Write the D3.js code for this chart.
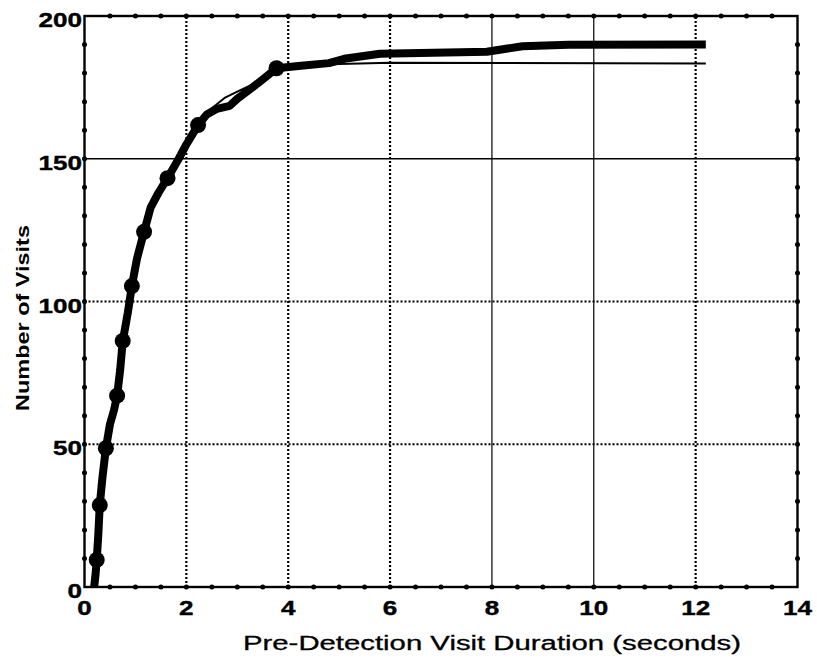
<!DOCTYPE html>
<html>
<head>
<meta charset="utf-8">
<script src="https://cdn.jsdelivr.net/npm/d3@7"></script>
<style>
  html, body { margin: 0; padding: 0; background: #fff; }
  svg { display: block; }
  text { font-family: "Liberation Sans", Arial, Helvetica, sans-serif; fill: #000; }
</style>
</head>
<body>
<svg id="chart" width="817" height="665"></svg>
<script>
// Cumulative number of visits versus pre-detection visit duration (seconds)
// All visits: thick curve
const allTime  = [0.19, 0.22, 0.24, 0.27, 0.30, 0.35, 0.42, 0.50, 0.58, 0.64, 0.70, 0.75, 0.85, 0.93, 1.03, 1.17, 1.30, 1.45, 1.63, 1.85, 2.00, 2.23, 2.40, 2.60, 2.85, 3.00, 3.30, 3.55, 3.77, 4.20, 4.80, 5.10, 5.80, 7.90, 8.60, 9.50, 12.20];
const allCount = [0,    5,    9.5,  18,   28.7, 38,   48.6, 57,   62,   67,   76,   86,   96,   105.4,115,  124.4,133,  138,  143.2,150,  155,  161.8,165.5,167.5,168.5,171,  175,  178.5,181.7,182.5,183.5,185,  186.8,187.5,189.4,189.9,190];

// Comparison curve: thin line
const subTime  = [0.19, 0.22, 0.24, 0.27, 0.30, 0.35, 0.42, 0.50, 0.58, 0.64, 0.70, 0.75, 0.85, 0.93, 1.03, 1.17, 1.30, 1.45, 1.63, 1.85, 2.00, 2.23, 2.45, 2.75, 3.00, 3.30, 3.60, 3.77, 4.10, 5.00, 6.00, 12.20];
const subCount = [0,    5,    9.5,  18,   28.7, 38,   48.6, 57,   62,   67,   76,   86,   96,   105.4,115,  124.4,133,  138,  143.2,150,  155,  161.8,167,  171.3,173.5,176,  179.5,181.5,182.3,183.2,183.6,183.4];

// Decile markers on the thick curve
const markTime  = [0.24, 0.30, 0.42, 0.64, 0.75, 0.93, 1.17, 1.63, 2.23, 3.77];
const markCount = [9.5,  28.7, 48.6, 67,   86.2, 105.4,124.4,143.2,161.8,181.7];

// Axis ticks
const xTicks = [0, 2, 4, 6, 8, 10, 12, 14];
const yTicks = [0, 50, 100, 150, 200];
const xGridSolid = [8, 10];
const yGridSolid = [150];

const svg = d3.select("#chart");
const x = d3.scaleLinear().domain([0, 14]).range([84.5, 797.5]);
const y = d3.scaleLinear().domain([0, 200]).range([587, 16]);

// Grid lines
const grid = svg.append("g");
xTicks.filter(v => v > 0 && v < 14).forEach(v => {
  const solid = xGridSolid.includes(v);
  grid.append("line")
    .attr("x1", x(v)).attr("x2", x(v)).attr("y1", y(0)).attr("y2", y(200))
    .attr("stroke", "#000")
    .attr("stroke-width", solid ? 1.2 : 2.2)
    .attr("stroke-dasharray", solid ? null : "2,2");
});
yTicks.filter(v => v > 0 && v < 200).forEach(v => {
  const solid = yGridSolid.includes(v);
  grid.append("line")
    .attr("x1", x(0)).attr("x2", x(14)).attr("y1", y(v)).attr("y2", y(v))
    .attr("stroke", "#000")
    .attr("stroke-width", solid ? 1.6 : 2.2)
    .attr("stroke-dasharray", solid ? null : "2,2");
});

// Frame
svg.append("rect")
  .attr("x", x(0)).attr("y", y(200))
  .attr("width", x(14) - x(0)).attr("height", y(0) - y(200))
  .attr("fill", "none").attr("stroke", "#000").attr("stroke-width", 2.4);

// Dot tick marks on all four sides
const dotG = svg.append("g").attr("fill", "#000");
d3.range(1, 28).map(i => i * 0.5).forEach(v => {
  dotG.append("circle").attr("cx", x(v)).attr("cy", y(0)).attr("r", 2.5);
  dotG.append("circle").attr("cx", x(v)).attr("cy", y(200)).attr("r", 2.5);
});
d3.range(1, 20).map(i => i * 10).forEach(v => {
  dotG.append("circle").attr("cx", x(0)).attr("cy", y(v)).attr("r", 2.5);
  dotG.append("circle").attr("cx", x(14)).attr("cy", y(v)).attr("r", 2.5);
});

// Curves
const line = d3.line().x(d => x(d[0])).y(d => y(d[1]));
svg.append("path")
  .datum(subTime.map((t, i) => [t, subCount[i]]))
  .attr("d", line)
  .attr("fill", "none").attr("stroke", "#000").attr("stroke-width", 2)
  .attr("stroke-linejoin", "round");
svg.append("path")
  .datum(allTime.map((t, i) => [t, allCount[i]]))
  .attr("d", line)
  .attr("fill", "none").attr("stroke", "#000").attr("stroke-width", 8)
  .attr("stroke-linejoin", "round");
svg.append("g").selectAll("circle")
  .data(markTime.map((t, i) => [t, markCount[i]]))
  .join("circle")
  .attr("cx", d => x(d[0])).attr("cy", d => y(d[1])).attr("r", 8)
  .attr("fill", "#000");

// Tick labels
svg.append("g").selectAll("text")
  .data(xTicks)
  .join("text")
  .attr("x", d => x(d)).attr("y", 615)
  .attr("text-anchor", "middle")
  .attr("font-size", 21).attr("font-weight", "bold")
  .attr("stroke", "#000").attr("stroke-width", 0.4)
  .attr("textLength", d => String(d).length * 14.5)
  .attr("lengthAdjust", "spacingAndGlyphs")
  .text(d => d);

svg.append("g").selectAll("text")
  .data(yTicks)
  .join("text")
  .attr("x", 82).attr("y", d => y(d) + 11)
  .attr("text-anchor", "end")
  .attr("font-size", 21).attr("font-weight", "bold")
  .attr("stroke", "#000").attr("stroke-width", 0.4)
  .attr("textLength", d => String(d).length * 14.5)
  .attr("lengthAdjust", "spacingAndGlyphs")
  .text(d => d);

// Axis titles
svg.append("text")
  .attr("x", 492).attr("y", 650)
  .attr("text-anchor", "middle")
  .attr("font-size", 20)
  .attr("stroke", "#000").attr("stroke-width", 0.3)
  .attr("textLength", 498).attr("lengthAdjust", "spacingAndGlyphs")
  .text("Pre-Detection Visit Duration (seconds)");

svg.append("text")
  .attr("transform", "translate(29,318) rotate(-90)")
  .attr("text-anchor", "middle")
  .attr("font-size", 19).attr("font-weight", "bold")
  .attr("textLength", 186).attr("lengthAdjust", "spacingAndGlyphs")
  .text("Number of Visits");
</script>
</body>
</html>
